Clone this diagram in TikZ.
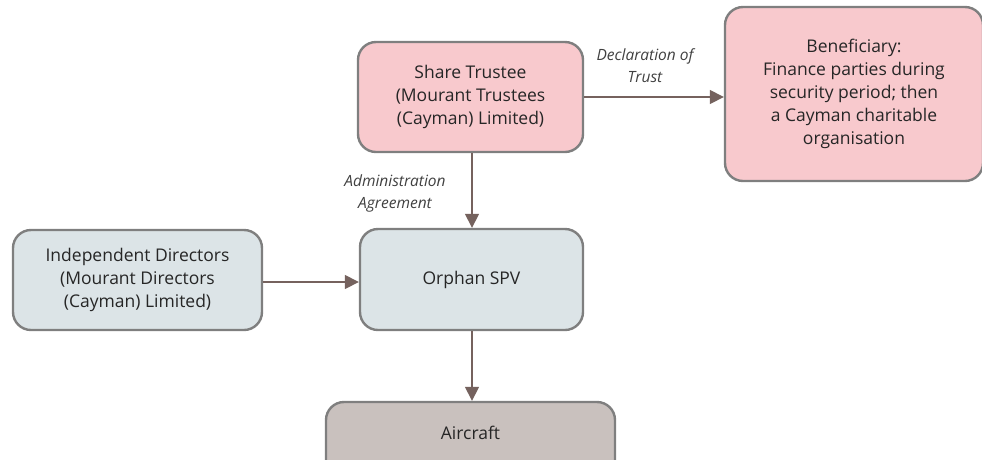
\documentclass[tikz,border=0pt]{standalone}
\usepackage{fontspec}
\setmainfont{Open Sans}
\usetikzlibrary{arrows.meta}
\definecolor{pinkfill}{HTML}{F8C9CD}
\definecolor{bluefill}{HTML}{DCE4E7}
\definecolor{greyfill}{HTML}{C9C1BE}
\definecolor{boxline}{HTML}{7F7F7F}
\definecolor{arrowcol}{HTML}{75625E}
\tikzset{
  box/.style={draw=boxline, line width=2.4pt, rounded corners=18pt, align=center,
    font=\fontsize{17.5}{23}\selectfont, text=black!85, inner sep=0pt},
  conn/.style={draw=arrowcol, line width=1.6pt, -{Triangle[length=14pt,width=14pt]}},
  lbl/.style={font=\fontsize{15.5}{22}\selectfont\itshape, text=black!75, align=center}
}
\begin{document}
\begin{tikzpicture}[x=1pt,y=-1pt]
\useasboundingbox (0,0) rectangle (982,459);
\clip (0,0) rectangle (982,459);
\node[box, fill=pinkfill, minimum width=225pt, minimum height=110pt] (trustee) at (470.5,97)
  {Share Trustee\\(Mourant Trustees\\(Cayman) Limited)};
\node[box, fill=pinkfill, minimum width=258pt, minimum height=174pt] (benef) at (854,94)
  {Beneficiary:\\Finance parties during\\security period; then\\a Cayman charitable\\organisation};
\node[box, fill=bluefill, minimum width=249pt, minimum height=100pt] (indep) at (137.5,280)
  {Independent Directors\\(Mourant Directors\\(Cayman) Limited)};
\node[box, fill=bluefill, minimum width=223pt, minimum height=101pt] (spv) at (471.5,279.5)
  {Orphan SPV};
\node[box, fill=greyfill, minimum width=289pt, minimum height=80pt] (aircraft) at (470.5,442)
  {};
\node[font=\fontsize{17.5}{23}\selectfont, text=black!85] (aircrafttext) at (470.5,433) {Aircraft};
\draw[conn] (trustee.east |- 0,97) -- (benef.west |- 0,97);
\draw[conn] (trustee.south -| 472,0) -- (spv.north -| 472,0);
\draw[conn] (indep.east |- 0,282) -- (spv.west |- 0,282);
\draw[conn] (spv.south -| 472,0) -- (aircraft.north -| 472,0);
\node[lbl] (decl) at (645,66) {Declaration of\\Trust};
\node[lbl] (admin) at (395,193) {Administration\\Agreement};
\end{tikzpicture}
\end{document}
